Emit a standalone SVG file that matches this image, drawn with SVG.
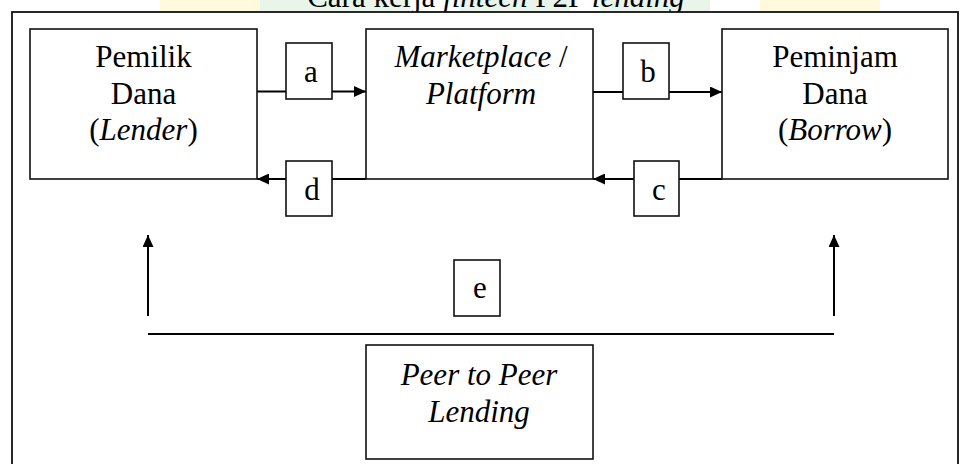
<svg xmlns="http://www.w3.org/2000/svg" width="960" height="464" viewBox="0 0 960 464">
  <style>
    .box { fill: #ffffff; stroke: #111111; stroke-width: 1.6; }
    .lbl { fill: #ffffff; stroke: #111111; stroke-width: 1.6; }
    .conn { fill: none; stroke: #000000; stroke-width: 2; }
    text { font-family: 'Liberation Serif', 'Times New Roman', Times, serif; font-size: 31px; fill: #000000; text-anchor: middle; }
    .i { font-style: italic; }
  </style>
  <defs>
    <marker id="arr" markerUnits="userSpaceOnUse" markerWidth="13" markerHeight="11" refX="12" refY="5.5" orient="auto">
      <path d="M0,0 L12,5.5 L0,11 Z" fill="#000000"/>
    </marker>
  </defs>

  <rect x="0" y="0" width="960" height="464" fill="#ffffff"/>
  <g id="watermark" opacity="0.4">
    <rect x="160" y="0" width="100" height="12" fill="#fff2a8"/>
    <rect x="260" y="0" width="150" height="12" fill="#c9e8cf"/>
    <rect x="460" y="0" width="110" height="12" fill="#c9e8cf"/>
    <rect x="600" y="0" width="110" height="12" fill="#c9e8cf"/>
    <rect x="760" y="0" width="120" height="12" fill="#fff2a8"/>
  </g>

  <text x="496" y="7">Cara kerja <tspan class="i">fintech</tspan> P2P <tspan class="i">lending</tspan></text>

  <rect id="frame" x="12" y="12" width="946" height="470" fill="#ffffff" stroke="#111111" stroke-width="1.8"/>

  <g id="connectors">
    <line class="conn" x1="257" y1="91.5" x2="366" y2="91.5" marker-end="url(#arr)"/>
    <line class="conn" x1="593" y1="92" x2="722" y2="92" marker-end="url(#arr)"/>
    <line class="conn" x1="722" y1="179" x2="593" y2="179" marker-end="url(#arr)"/>
    <line class="conn" x1="366" y1="179" x2="257" y2="179" marker-end="url(#arr)"/>
    <line class="conn" x1="148" y1="334" x2="834" y2="334"/>
    <line class="conn" x1="148" y1="316" x2="148" y2="235" marker-end="url(#arr)"/>
    <line class="conn" x1="834" y1="316" x2="834" y2="235" marker-end="url(#arr)"/>
  </g>

  <g id="lender">
    <rect class="box" x="30" y="29" width="227" height="150"/>
    <text x="143.5" y="67">Pemilik</text>
    <text x="143.5" y="104">Dana</text>
    <text x="143.5" y="140">(<tspan class="i">Lender</tspan>)</text>
  </g>

  <g id="platform">
    <rect class="box" x="366" y="29" width="227" height="150"/>
    <text x="481" y="67"><tspan class="i">Marketplace</tspan> /</text>
    <text class="i" x="481" y="104">Platform</text>
  </g>

  <g id="borrower">
    <rect class="box" x="722" y="29" width="226" height="150"/>
    <text x="835" y="67">Peminjam</text>
    <text x="835" y="104">Dana</text>
    <text x="835" y="140">(<tspan class="i">Borrow</tspan>)</text>
  </g>

  <g id="p2p">
    <rect class="box" x="366" y="345" width="227" height="114"/>
    <text class="i" x="479" y="385">Peer to Peer</text>
    <text class="i" x="479" y="422">Lending</text>
  </g>

  <g id="label-a">
    <rect class="lbl" x="286" y="43" width="46" height="56"/>
    <text x="311" y="82">a</text>
  </g>
  <g id="label-b">
    <rect class="lbl" x="623" y="43" width="46" height="56"/>
    <text x="648" y="82">b</text>
  </g>
  <g id="label-c">
    <rect class="lbl" x="634" y="161" width="45" height="55"/>
    <text x="659" y="200">c</text>
  </g>
  <g id="label-d">
    <rect class="lbl" x="286" y="161" width="46" height="55"/>
    <text x="312" y="200">d</text>
  </g>
  <g id="label-e">
    <rect class="lbl" x="454" y="260" width="46" height="56"/>
    <text x="480" y="298">e</text>
  </g>
</svg>
